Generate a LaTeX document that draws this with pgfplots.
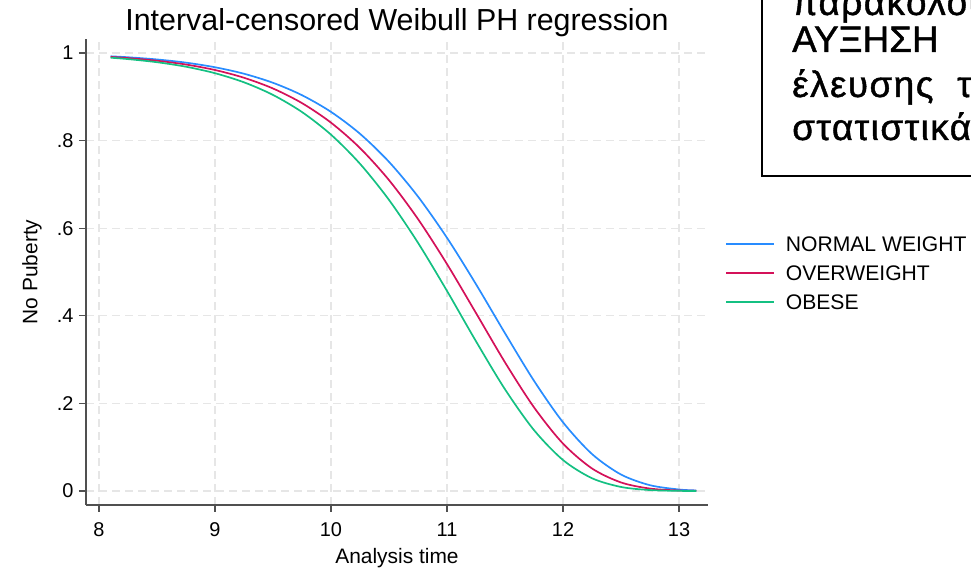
\documentclass[border=0pt]{standalone}
\usepackage{fontspec}
\setmainfont{Liberation Sans}
\newfontfamily\boxfont[FakeBold=1.2]{Liberation Sans}
\newfontfamily\boxfontwide[FakeBold=1.2, LetterSpace=4]{Liberation Sans}
\usepackage{pgfplots}
\pgfplotsset{compat=1.18}

\definecolor{stblue}{RGB}{40,140,255}
\definecolor{stred}{RGB}{212,17,89}
\definecolor{stgreen}{RGB}{20,192,130}
\definecolor{axisgray}{RGB}{80,80,80}
\definecolor{gridgray}{RGB}{230,230,230}

\begin{document}
\begin{tikzpicture}
	\begin{axis}[at={(86bp,65bp)}, anchor=south west,
							scale only axis,
							width=622bp,
							height=466bp,
							xmin=7.888, xmax=13.25,
							ymin=-0.032, ymax=1.032,
							axis x line*=bottom,
							axis y line*=left,
							axis line style={axisgray, line width=1.3bp, -},
							xtick={8,9,10,11,12,13},
							ytick={0,0.2,0.4,0.6,0.8,1},
							yticklabels={0,.2,.4,.6,.8,1},
							tick align=outside,
							major tick length=7bp,
							tick style={axisgray, line width=1.3bp},
							ticklabel style={font=\fontsize{20}{24}\selectfont},
							xticklabel style={yshift=-7bp},
							yticklabel style={xshift=-2bp},
							/pgf/number format/assume math mode=true,
							grid=major,
							major grid style={gridgray, line width=1.3bp, dash pattern=on 8bp off 5bp},
							title={Interval-censored Weibull PH regression},
							title style={at={(axis description cs:0.5,1.0064)}, anchor=base, font=\fontsize{30.5}{36}\selectfont},
							xlabel={Analysis time},
							xlabel style={at={(axis description cs:0.5,-0.1255)}, anchor=base, font=\fontsize{21}{25}\selectfont},
							ylabel={No Puberty},
							ylabel style={at={(axis description cs:-0.078,0.5)}, anchor=base, rotate=0, font=\fontsize{21}{25}\selectfont},
							legend style={draw=none, fill=none, inner sep=0pt,
								at={(axis description cs:1.0273,0.5815)}, anchor=north west,
								font=\fontsize{21.2}{25}\selectfont,
								nodes={inner sep=2bp, text height=15bp, text depth=0bp},
								row sep=10bp, column sep=9bp},
							legend cell align=left,
							legend image code/.code={\draw[#1] (0bp,0bp) -- (48bp,0bp);},
							every axis plot/.append style={line width=1.7bp, smooth}
							]
		\addplot[color=stblue] coordinates {(8.1,0.9925) (8.25,0.9903) (8.5,0.9853) (8.75,0.9780) (9.0,0.9675) (9.25,0.9527) (9.5,0.9320) (9.75,0.9037) (10.0,0.8656) (10.25,0.8156) (10.5,0.7515) (10.75,0.6722) (11.0,0.5781) (11.25,0.4721) (11.5,0.3602) (11.75,0.2516) (12.0,0.1568) (12.25,0.0844) (12.5,0.0376) (12.75,0.0132) (13.0,0.0034) (13.15,0.0013)};
		\addlegendentry{NORMAL WEIGHT}
		\addplot[color=stred] coordinates {(8.1,0.9910) (8.25,0.9884) (8.5,0.9824) (8.75,0.9737) (9.0,0.9612) (9.25,0.9435) (9.5,0.9190) (9.75,0.8856) (10.0,0.8410) (10.25,0.7830) (10.5,0.7098) (10.75,0.6209) (11.0,0.5181) (11.25,0.4063) (11.5,0.2937) (11.75,0.1910) (12.0,0.1082) (12.25,0.0514) (12.5,0.0195) (12.75,0.0055) (13.0,0.0011) (13.15,0.0003)};
		\addlegendentry{OVERWEIGHT}
		\addplot[color=stgreen] coordinates {(8.1,0.9893) (8.25,0.9861) (8.5,0.9790) (8.75,0.9687) (9.0,0.9539) (9.25,0.9331) (9.5,0.9043) (9.75,0.8652) (10.0,0.8136) (10.25,0.7471) (10.5,0.6646) (10.75,0.5667) (11.0,0.4568) (11.25,0.3418) (11.5,0.2322) (11.75,0.1390) (12.0,0.0707) (12.25,0.0291) (12.5,0.0092) (12.75,0.0021) (13.0,0.0003) (13.15,0.0001)};
		\addlegendentry{OBESE}
	\end{axis}
	% text box cut by the right and top edges
	\begin{scope}
		\clip (0bp,0bp) rectangle (971bp,570bp);
		\draw[line width=2.5bp] (762bp,394bp) rectangle (1010bp,620bp);
		\begin{scope}[every node/.style={anchor=base west, inner sep=0pt}]
			\node[font=\boxfontwide\fontsize{37}{44}\selectfont] at (792bp,555bp) {παρακολούθησης};
			\node[font=\boxfont\fontsize{37}{44}\selectfont] at (792bp,518bp) {ΑΥΞΗΣΗ};
			\node[font=\boxfontwide\fontsize{37}{44}\selectfont] at (792bp,473bp) {έλευσης};
			\node[font=\boxfontwide\fontsize{37}{44}\selectfont] at (957bp,473bp) {της};
			\node[font=\boxfontwide\fontsize{37}{44}\selectfont] at (792bp,430bp) {στατιστικά};
		\end{scope}
	\end{scope}
	\pgfresetboundingbox
	\useasboundingbox (0bp,0bp) rectangle (971bp,570bp);
\end{tikzpicture}
\end{document}
